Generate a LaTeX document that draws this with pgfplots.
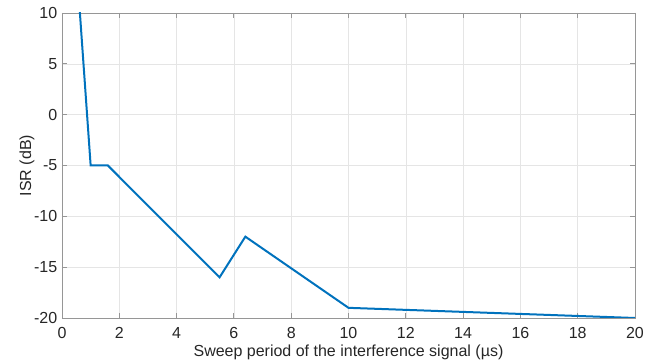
\documentclass[border=0pt]{standalone}
\usepackage{pgfplots}
\pgfplotsset{compat=1.18}
\usepackage{fontspec}
\setmainfont{Liberation Sans}
\definecolor{mblue}{RGB}{0,114,189}
\definecolor{axgray}{RGB}{150,150,150}
\definecolor{txt}{RGB}{38,38,38}
\begin{document}
\begin{tikzpicture}
\begin{axis}[
  at={(0,0)}, anchor=south west,
  scale only axis,
  width=429.75pt, height=228.75pt,
  xmin=0, xmax=20, ymin=-20, ymax=10,
  xtick={0,2,...,20}, ytick={-20,-15,...,10},
  grid=major,
  major grid style={color=black!10, line width=0.4pt},
  axis line style={axgray, line width=0.6pt},
  tick style={axgray, line width=0.6pt},
  tick align=inside,
  major tick length=4pt,
  tick label style={font=\fontsize{12}{14}\selectfont, text=txt},
  xticklabel style={yshift=-3.5pt},
  label style={font=\fontsize{12}{14}\selectfont, text=txt},
  /pgf/number format/assume math mode=true,
  xlabel={Sweep period of the interference signal (µs)},
  ylabel={ISR (dB)},
  xlabel style={yshift=2pt},
  ylabel style={yshift=-7pt},
  clip=true,
]
\addplot[mblue, line width=1.5pt] coordinates {
  (0.5,15) (1.0,-5) (1.6,-5) (5.5,-16) (6.4,-12) (10,-19) (20,-20)
};
\end{axis}
\pgfresetboundingbox
\path (-46.5pt,-33.75pt) rectangle (452.25pt,238.5pt);
\end{tikzpicture}
\end{document}
